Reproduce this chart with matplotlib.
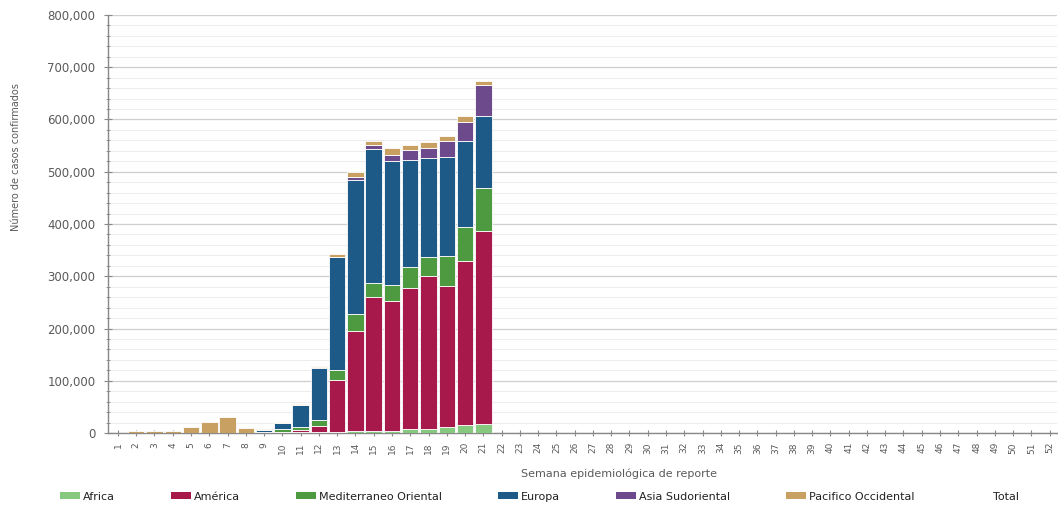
import numpy as np
import matplotlib.pyplot as plt
from matplotlib.patches import Patch
from matplotlib.ticker import MultipleLocator, FuncFormatter

# Semanas epidemiológicas
semanas = list(range(1, 53))

# Casos confirmados por región (semanas 1-21, el resto sin datos)
africa = [0, 0, 0, 0, 0, 0, 0, 0, 0, 200, 1000, 1000, 2000, 3000, 4000,
          4000, 7000, 8000, 11000, 16000, 18000]
america = [0, 0, 0, 0, 0, 0, 0, 0, 0, 1000, 5000, 13000, 100000, 193000, 256000,
           249000, 271000, 293000, 271000, 314000, 369000]
mediterraneo = [0, 0, 0, 0, 0, 0, 0, 0, 1500, 6000, 6000, 11000, 19000, 32000, 27000,
                31000, 40000, 36000, 56000, 65000, 82000]
europa = [0, 0, 0, 0, 0, 0, 0, 0, 3500, 12000, 42000, 100000, 215000, 256000, 256000,
          237000, 205000, 190000, 190000, 163000, 137000]
asia = [0, 0, 0, 0, 0, 0, 0, 0, 0, 0, 500, 1000, 1500, 6000, 8000,
        11000, 18000, 19000, 31000, 38000, 60000]
pacifico = [300, 3000, 3000, 3000, 11000, 22000, 31000, 9000, 2000, 1500, 1000, 2000, 6000, 9000, 8000,
            13000, 11000, 11000, 10000, 10000, 8000]

regiones = ['Africa', 'América', 'Mediterraneo Oriental', 'Europa',
            'Asia Sudoriental', 'Pacifico Occidental']
series = [africa, america, mediterraneo, europa, asia, pacifico]
colores = ['#86c97e', '#a6194a', '#4e9a40', '#1d5a87', '#6d4a8c', '#c8a062']

gris = '#5a5a5a'

fig = plt.figure(figsize=(10.58, 5.08), dpi=100)
ax = fig.add_axes([0.102, 0.1476, 0.897, 0.8229])

n = len(africa)
x = np.array(semanas[:n])
base = np.zeros(n)
for nombre, datos, c in zip(regiones, series, colores):
    datos = np.array(datos, dtype=float)
    ax.bar(x, datos, bottom=base, width=0.9, color=c, edgecolor='white',
           linewidth=0.6, zorder=3)
    base += datos

# Ejes
ax.set_xlim(0.45, 52.4)
ax.set_ylim(0, 800000)
ax.yaxis.set_major_locator(MultipleLocator(100000))
ax.yaxis.set_minor_locator(MultipleLocator(20000))
ax.yaxis.set_major_formatter(FuncFormatter(lambda v, p: f'{int(v):,}'))
ax.grid(axis='y', which='major', color='#cfcfcf', linewidth=0.9, zorder=0)
ax.grid(axis='y', which='minor', color='#ececec', linewidth=0.7, zorder=0)

ax.set_xticks(semanas)
ax.set_xticklabels([str(s) for s in semanas], rotation=90, fontsize=6.5, color=gris)
ax.tick_params(axis='x', direction='inout', length=5, color='#888888', pad=4)
ax.tick_params(axis='y', which='major', direction='inout', length=6, color='#888888',
               labelsize=8.5, labelcolor=gris, pad=6)
ax.tick_params(axis='y', which='minor', direction='inout', length=3, color='#888888')

for s in ['top', 'right']:
    ax.spines[s].set_visible(False)
for s in ['left', 'bottom']:
    ax.spines[s].set_color('#888888')
    ax.spines[s].set_linewidth(1.0)

ax.set_xlabel('Semana epidemiológica de reporte', fontsize=8, color=gris)
ax.xaxis.set_label_coords(0.539, -0.085)
ax.set_ylabel('Número de casos confirmados', fontsize=7, color=gris)
ax.yaxis.set_label_coords(-0.092, 0.66)

# Leyenda
handles = [Patch(facecolor=c, edgecolor='none') for c in colores]
handles.append(Patch(facecolor='none', edgecolor='none'))
etiquetas = regiones + ['Total']
fig.legend(handles, etiquetas, loc='center', bbox_to_anchor=(0.51, 0.022), ncol=7,
           frameon=False, fontsize=8, handlelength=1.8, handleheight=0.6,
           handletextpad=0.3, columnspacing=5.0, labelcolor='#222222')

fig.savefig('out.png', dpi=100)
